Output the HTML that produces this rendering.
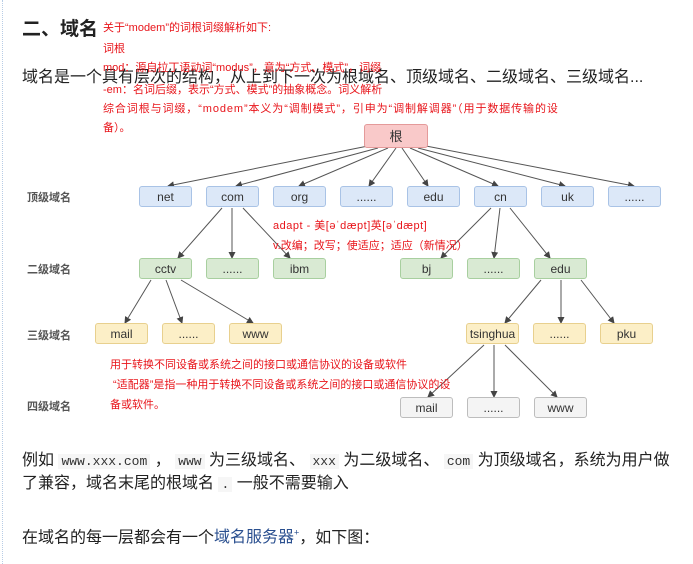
<!DOCTYPE html>
<html><head><meta charset="utf-8"><style>
body{margin:0;width:693px;height:564px;background:#fff;position:relative;overflow:hidden;font-family:"Liberation Sans","Noto Sans CJK SC",sans-serif;}
.a{position:absolute;white-space:nowrap}
.r{color:#e8141a;font-size:11px;line-height:14px}
.b{position:absolute;height:21px;border-radius:3px;font-size:12px;line-height:21px;text-align:center;color:#333;box-sizing:border-box}
.t{background:#dce8f8;border:1px solid #a9c3e6;width:53px}
.s{background:#d9ead3;border:1px solid #a8cf9f;width:53px}
.h{background:#fcefc7;border:1px solid #e8d08e;width:53px}
.f{background:#f4f4f4;border:1px solid #bdbdbd;width:53px}
.lbl{position:absolute;font-size:11px;font-weight:bold;color:#555}
.m{font-size:16px;color:#222;line-height:20px}
code{font-family:"Liberation Mono",monospace;font-size:13px;background:#f6f6f6;padding:0 3px;color:#333}
</style></head><body>
<div style="position:absolute;left:2px;top:0;height:564px;border-left:1px dotted #b8cde6"></div>
<svg class="a" style="left:0;top:0" width="693" height="564">
<defs><marker id="ar" markerWidth="7" markerHeight="7" refX="6" refY="3.5" orient="auto"><path d="M0,0 L7,3.5 L0,7z" fill="#444"/></marker></defs>
<g stroke="#555" stroke-width="1" fill="none" marker-end="url(#ar)">
<line x1="368" y1="146" x2="168" y2="186"/>
<line x1="378" y1="148" x2="236" y2="186"/>
<line x1="388" y1="148" x2="299" y2="186"/>
<line x1="396" y1="148" x2="369" y2="186"/>
<line x1="402" y1="148" x2="428" y2="186"/>
<line x1="410" y1="148" x2="498" y2="186"/>
<line x1="418" y1="148" x2="565" y2="186"/>
<line x1="426" y1="146" x2="634" y2="186"/>
<line x1="222" y1="208" x2="178" y2="258"/>
<line x1="232" y1="208" x2="232" y2="258"/>
<line x1="243" y1="208" x2="290" y2="258"/>
<line x1="491" y1="208" x2="441" y2="258"/>
<line x1="500" y1="208" x2="494" y2="258"/>
<line x1="510" y1="208" x2="550" y2="258"/>
<line x1="151" y1="280" x2="125" y2="323"/>
<line x1="166" y1="280" x2="182" y2="323"/>
<line x1="181" y1="280" x2="253" y2="323"/>
<line x1="541" y1="280" x2="505" y2="323"/>
<line x1="561" y1="280" x2="561" y2="323"/>
<line x1="581" y1="280" x2="614" y2="323"/>
<line x1="484" y1="345" x2="428" y2="397"/>
<line x1="494" y1="345" x2="494" y2="397"/>
<line x1="505" y1="345" x2="557" y2="397"/>
</g></svg>
<div class="b" style="left:364px;top:124px;width:64px;height:24px;line-height:24px;background:#f9c9c9;border:1px solid #e49a9a;font-size:13px">根</div>
<div class="b t" style="left:139px;top:186px">net</div>
<div class="b t" style="left:206px;top:186px">com</div>
<div class="b t" style="left:273px;top:186px">org</div>
<div class="b t" style="left:340px;top:186px">......</div>
<div class="b t" style="left:407px;top:186px">edu</div>
<div class="b t" style="left:474px;top:186px">cn</div>
<div class="b t" style="left:541px;top:186px">uk</div>
<div class="b t" style="left:608px;top:186px">......</div>
<div class="b s" style="left:139px;top:258px">cctv</div>
<div class="b s" style="left:206px;top:258px">......</div>
<div class="b s" style="left:273px;top:258px">ibm</div>
<div class="b s" style="left:400px;top:258px">bj</div>
<div class="b s" style="left:467px;top:258px">......</div>
<div class="b s" style="left:534px;top:258px">edu</div>
<div class="b h" style="left:95px;top:323px">mail</div>
<div class="b h" style="left:162px;top:323px">......</div>
<div class="b h" style="left:229px;top:323px">www</div>
<div class="b h" style="left:466px;top:323px">tsinghua</div>
<div class="b h" style="left:533px;top:323px">......</div>
<div class="b h" style="left:600px;top:323px">pku</div>
<div class="b f" style="left:400px;top:397px">mail</div>
<div class="b f" style="left:467px;top:397px">......</div>
<div class="b f" style="left:534px;top:397px">www</div>
<div class="lbl" style="left:27px;top:189px">顶级域名</div>
<div class="lbl" style="left:27px;top:261px">二级域名</div>
<div class="lbl" style="left:27px;top:327px">三级域名</div>
<div class="lbl" style="left:27px;top:398px">四级域名</div>
<div class="a" style="left:22px;top:14px;font-size:19px;font-weight:bold;color:#222">二、域名</div>
<div class="a m" style="left:22px;top:68px">域名是一个具有层次的结构，从上到下一次为根域名、顶级域名、二级域名、三级域名...</div>
<div class="a r" style="left:103px;top:21px">关于“modem”的词根词缀解析如下:</div>
<div class="a r" style="left:103px;top:42px">词根</div>
<div class="a r" style="left:103px;top:61px">mod：源自拉丁语动词“modus”，意为“方式、模式”，词缀</div>
<div class="a r" style="left:103px;top:83px">-em：名词后缀，表示“方式、模式”的抽象概念。词义解析</div>
<div class="a r" style="left:103px;top:102px;letter-spacing:0.9px">综合词根与词缀，“modem”本义为“调制模式”，引申为“调制解调器”（用于数据传输的设</div>
<div class="a r" style="left:103px;top:121px">备）。</div>
<div class="a r" style="left:273px;top:219px;letter-spacing:0.5px">adapt - 美[əˈdæpt]英[əˈdæpt]</div>
<div class="a r" style="left:273px;top:239px">v.改编；改写；使适应；适应（新情况）</div>
<div class="a r" style="left:110px;top:358px">用于转换不同设备或系统之间的接口或通信协议的设备或软件</div>
<div class="a r" style="left:110px;top:378px">&nbsp;“适配器”是指一种用于转换不同设备或系统之间的接口或通信协议的设</div>
<div class="a r" style="left:110px;top:398px">备或软件。</div>
<div class="a m" style="left:22px;top:451px">例如 <code>www.xxx.com</code> ， <code>www</code> 为三级域名、 <code>xxx</code> 为二级域名、 <code>com</code> 为顶级域名，系统为用户做</div>
<div class="a m" style="left:22px;top:474px">了兼容，域名末尾的根域名 <code>.</code> 一般不需要输入</div>
<div class="a m" style="left:22px;top:523px">在域名的每一层都会有一个<span style="color:#2a4f8f">域名服务器<sup style="font-size:9px">+</sup></span>，如下图：</div>
</body></html>
